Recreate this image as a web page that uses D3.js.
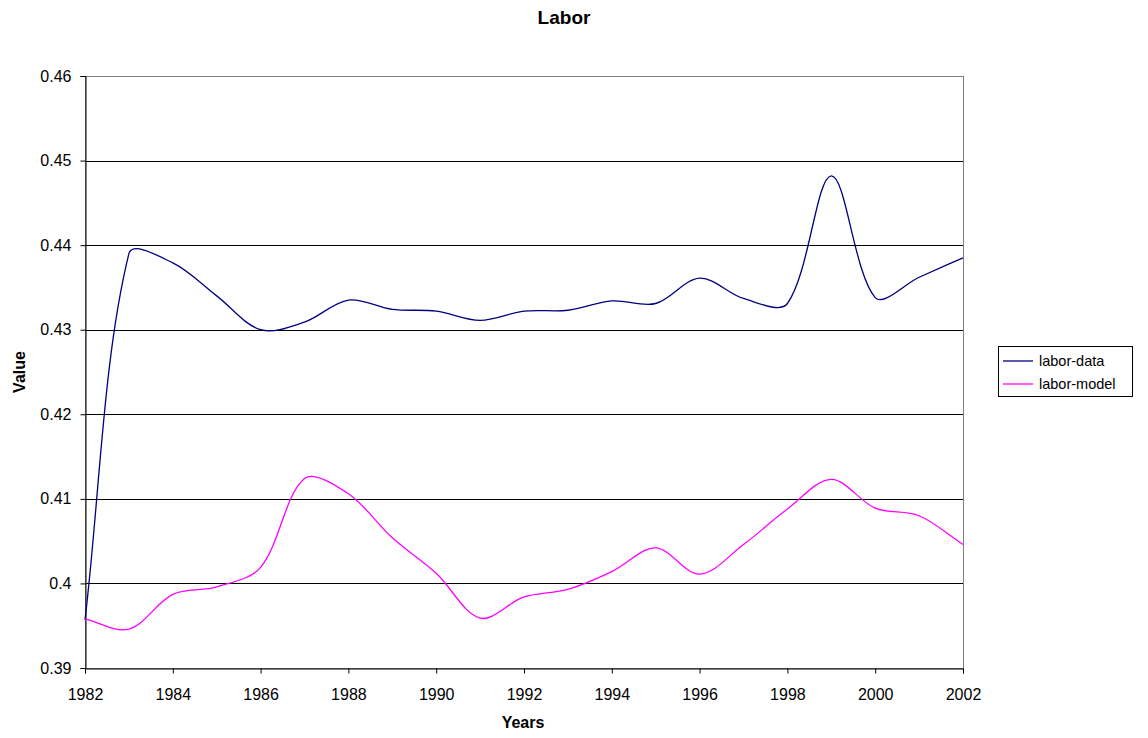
<!DOCTYPE html>
<html>
<head>
<meta charset="utf-8">
<script src="https://cdn.jsdelivr.net/npm/d3@7"></script>
<style>
  body { margin: 0; background: #fff; }
  text { font-family: "Liberation Sans", Arial, sans-serif; }
</style>
</head>
<body>
<div id="chart"></div>
<script>
  const years = d3.range(1982, 2003);
  const laborData = [0.3957, 0.4390, 0.4379, 0.4340, 0.4300, 0.4309, 0.4335, 0.4324, 0.4322, 0.4311,
    0.4322, 0.4323, 0.4334, 0.4331, 0.4361, 0.4337, 0.4331, 0.4482, 0.4338, 0.4362, 0.4385];
  const laborModel = [0.3958, 0.3946, 0.3987, 0.3996, 0.4019, 0.4124, 0.4106, 0.4054, 0.4012, 0.3959,
    0.3984, 0.3993, 0.4014, 0.4042, 0.4011, 0.4046, 0.4088, 0.4123, 0.4089, 0.4080, 0.4046];
  const yTicks = [0.39, 0.40, 0.41, 0.42, 0.43, 0.44, 0.45, 0.46];
  const xTicks = d3.range(1982, 2003, 2);
  const seriesNames = ["labor-data", "labor-model"];
  const seriesColors = ["#000080", "#ff00ff"];

  const margin = { top: 76, right: 185, bottom: 70, left: 85 };
  const totalW = 1148, totalH = 738;
  const width = totalW - margin.left - margin.right;
  const height = totalH - margin.top - margin.bottom;

  const svg = d3.select("#chart").append("svg")
    .attr("width", totalW)
    .attr("height", totalH);

  const g = svg.append("g")
    .attr("transform", "translate(" + margin.left + "," + margin.top + ")");

  const x = d3.scaleLinear().domain([1982, 2002]).range([0, width]);
  const y = d3.scaleLinear().domain([0.39, 0.46]).range([height, 0]);

  // gridlines
  g.selectAll(".grid")
    .data(yTicks.slice(1, -1))
    .enter().append("line")
    .attr("x1", 0).attr("x2", width)
    .attr("y1", d => Math.round(y(d)) + 0.5)
    .attr("y2", d => Math.round(y(d)) + 0.5)
    .attr("stroke", "#000")
    .attr("stroke-width", 1);

  // plot border
  g.append("rect")
    .attr("x", 0.5).attr("y", 0.5)
    .attr("width", width).attr("height", height)
    .attr("fill", "none")
    .attr("stroke", "#808080");

  const yAxis = d3.axisLeft(y).tickValues(yTicks).tickSize(5).tickPadding(9)
    .tickFormat(d => d3.format(".2~f")(d));
  const xAxis = d3.axisBottom(x).tickValues(xTicks).tickSize(5).tickPadding(15)
    .tickFormat(d3.format("d"));

  const ya = g.append("g").attr("transform", "translate(0.5,0)").call(yAxis);
  const xa = g.append("g").attr("transform", "translate(0," + (height + 0.5) + ")").call(xAxis);
  [ya, xa].forEach(a => {
    a.select(".domain").attr("stroke", "#000");
    a.selectAll(".tick line").attr("stroke", "#000");
    a.selectAll("text").attr("font-size", 16).attr("fill", "#000")
      .style("font-family", "'Liberation Sans', Arial, sans-serif");
  });

  // excel-like smoothing: tangent through neighbours, scaled by segment lengths
  function smoothPath(pts) {
    const p = d3.path();
    const dist = (a, b) => Math.hypot(b[0] - a[0], b[1] - a[1]);
    p.moveTo(pts[0][0], pts[0][1]);
    for (let i = 0; i < pts.length - 1; i++) {
      const p0 = pts[Math.max(i - 1, 0)], p1 = pts[i], p2 = pts[i + 1], p3 = pts[Math.min(i + 2, pts.length - 1)];
      const d01 = dist(p0, p1), d12 = dist(p1, p2), d23 = dist(p2, p3);
      const f1 = d01 + d12 > 0 ? d12 / (d01 + d12) / 3 : 0;
      const f2 = d12 + d23 > 0 ? d12 / (d12 + d23) / 3 : 0;
      const c1 = [p1[0] + (p2[0] - p0[0]) * f1, p1[1] + (p2[1] - p0[1]) * f1];
      const c2 = [p2[0] - (p3[0] - p1[0]) * f2, p2[1] - (p3[1] - p1[1]) * f2];
      p.bezierCurveTo(c1[0], c1[1], c2[0], c2[1], p2[0], p2[1]);
    }
    return p.toString();
  }

  [laborData, laborModel].forEach((vals, i) => {
    g.append("path")
      .attr("d", smoothPath(years.map((yr, j) => [x(yr), y(vals[j])])))
      .attr("fill", "none")
      .attr("stroke", seriesColors[i])
      .attr("stroke-width", 1.3);
  });

  // title and axis labels
  svg.append("text")
    .attr("x", 564).attr("y", 24)
    .attr("text-anchor", "middle")
    .attr("font-size", 19).attr("font-weight", "bold")
    .text("Labor");
  svg.append("text")
    .attr("x", 523).attr("y", 728)
    .attr("text-anchor", "middle")
    .attr("font-size", 16).attr("font-weight", "bold")
    .text("Years");
  svg.append("text")
    .attr("transform", "translate(25," + 372 + ") rotate(-90)")
    .attr("text-anchor", "middle")
    .attr("font-size", 16).attr("font-weight", "bold")
    .text("Value");

  // legend
  const legend = svg.append("g").attr("transform", "translate(998,346)");
  legend.append("rect")
    .attr("x", 0.5).attr("y", 0.5)
    .attr("width", 134).attr("height", 50)
    .attr("fill", "#fff").attr("stroke", "#000");
  seriesNames.forEach((name, i) => {
    const ly = 15 + i * 23;
    legend.append("line")
      .attr("x1", 5).attr("x2", 35)
      .attr("y1", ly).attr("y2", ly)
      .attr("stroke", seriesColors[i]).attr("stroke-width", 1.3);
    legend.append("text")
      .attr("x", 41).attr("y", ly + 5)
      .attr("font-size", 14.5)
      .text(name);
  });
</script>
</body>
</html>
